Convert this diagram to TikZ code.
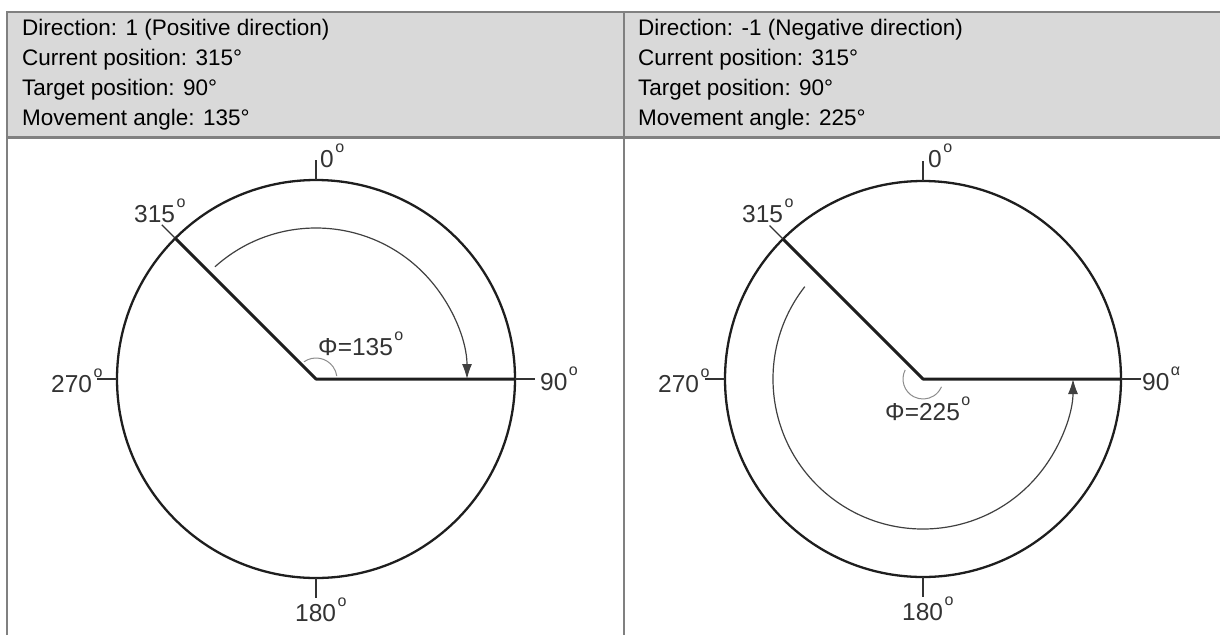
\documentclass[tikz,border=0pt]{standalone}
\usepackage{fontspec}
\setmainfont{Liberation Sans}
\usetikzlibrary{arrows.meta}
\definecolor{hdrfill}{HTML}{D9D9D9}
\definecolor{rulegray}{HTML}{808080}
\definecolor{ink}{HTML}{1E1E1E}
\definecolor{lblgray}{HTML}{333333}
\newcommand\supo{\kern1.5pt\raisebox{15pt}{\fontsize{16}{16}\selectfont o}}
\newcommand\supa{\kern1.5pt\raisebox{15pt}{\fontsize{16}{16}\selectfont α}}
\begin{document}
\begin{tikzpicture}[x=1pt,y=1pt,
  hdr/.style={anchor=base west, inner sep=0pt, font=\fontsize{22.5}{24}\selectfont},
  lab/.style={anchor=base west, inner sep=0pt, text=lblgray, font=\fontsize{24.5}{24}\selectfont},
  border/.style={draw=rulegray, line width=2.5pt},
  rim/.style={draw=ink, line width=2.3pt},
  radial/.style={draw=ink, line width=3pt, line join=round},
  tickline/.style={draw=lblgray, line width=1.3pt},
  sweep/.style={draw=black!75, line width=1.2pt, -{Latex[length=15pt,width=10pt]}},
  anglemark/.style={draw=black!45, line width=1pt},
]
\useasboundingbox (0,0) rectangle (1220,-635);
% table
\fill[hdrfill] (7,-12) rectangle (1245,-137.5);
\draw[border] (7,-635) -- (7,-12) -- (1245,-12);
\draw[border] (7,-137.5) -- (1245,-137.5);
\draw[border] (624,-12) -- (624,-635);
% header texts
\node[hdr] (h1L) at (22,-35) {Direction: 1 (Positive direction)};
\node[hdr] (h2L) at (22,-65) {Current position: 315°};
\node[hdr] (h3L) at (22,-95) {Target position: 90°};
\node[hdr] (h4L) at (22,-125) {Movement angle: 135°};
\node[hdr] (h1R) at (638,-35) {Direction: -1 (Negative direction)};
\node[hdr] (h2R) at (638,-65) {Current position: 315°};
\node[hdr] (h3R) at (638,-95) {Target position: 90°};
\node[hdr] (h4R) at (638,-125) {Movement angle: 225°};
% centres
\coordinate (cL) at (316,-379);
\coordinate (cR) at (923,-379);
% left diagram
\draw[rim] (cL) circle[radius=199pt];
\foreach \a in {0,90,180,270} \draw[tickline] (cL) ++(\a:199pt) -- ++(\a:20pt);
\draw[tickline] (cL) ++(135:199pt) -- ++(135:19pt);
\draw[radial] (cL) ++(135:199pt) -- (cL) -- ++(0:199pt);
\draw[anglemark] (cL) ++(125:21pt) arc[start angle=125, end angle=8, radius=21pt];
\draw[sweep] (cL) ++(132:151pt) arc[start angle=132, end angle=0, radius=151pt];
\node[lab] (l0L) at (320,-167) {0\supo};
\node[lab] (l315L) at (134,-222) {315\supo};
\node[lab] (l270L) at (51,-392) {270\supo};
\node[lab] (l90L) at (540,-390) {90\supo};
\node[lab] (l180L) at (295,-621) {180\supo};
\node[lab] (phiL) at (318,-355) {Φ=135\supo};
% right diagram
\draw[rim] (cR) circle[radius=198pt];
\foreach \a in {0,90,180,270} \draw[tickline] (cR) ++(\a:198pt) -- ++(\a:20pt);
\draw[tickline] (cR) ++(135:198pt) -- ++(135:19pt);
\draw[radial] (cR) ++(135:198pt) -- (cR) -- ++(0:198pt);
\draw[anglemark] (cR) ++(153:20pt) arc[start angle=153, end angle=337, radius=20pt];
\draw[sweep] (cR) ++(142:150pt) arc[start angle=142, end angle=360, radius=150pt];
\node[lab] (l0R) at (928,-167) {0\supo};
\node[lab] (l315R) at (742,-222) {315\supo};
\node[lab] (l270R) at (658,-392) {270\supo};
\node[lab] (l90R) at (1142,-390) {90\supa};
\node[lab] (l180R) at (902,-620) {180\supo};
\node[lab] (phiR) at (885,-420) {Φ=225\supo};
\end{tikzpicture}
\end{document}
